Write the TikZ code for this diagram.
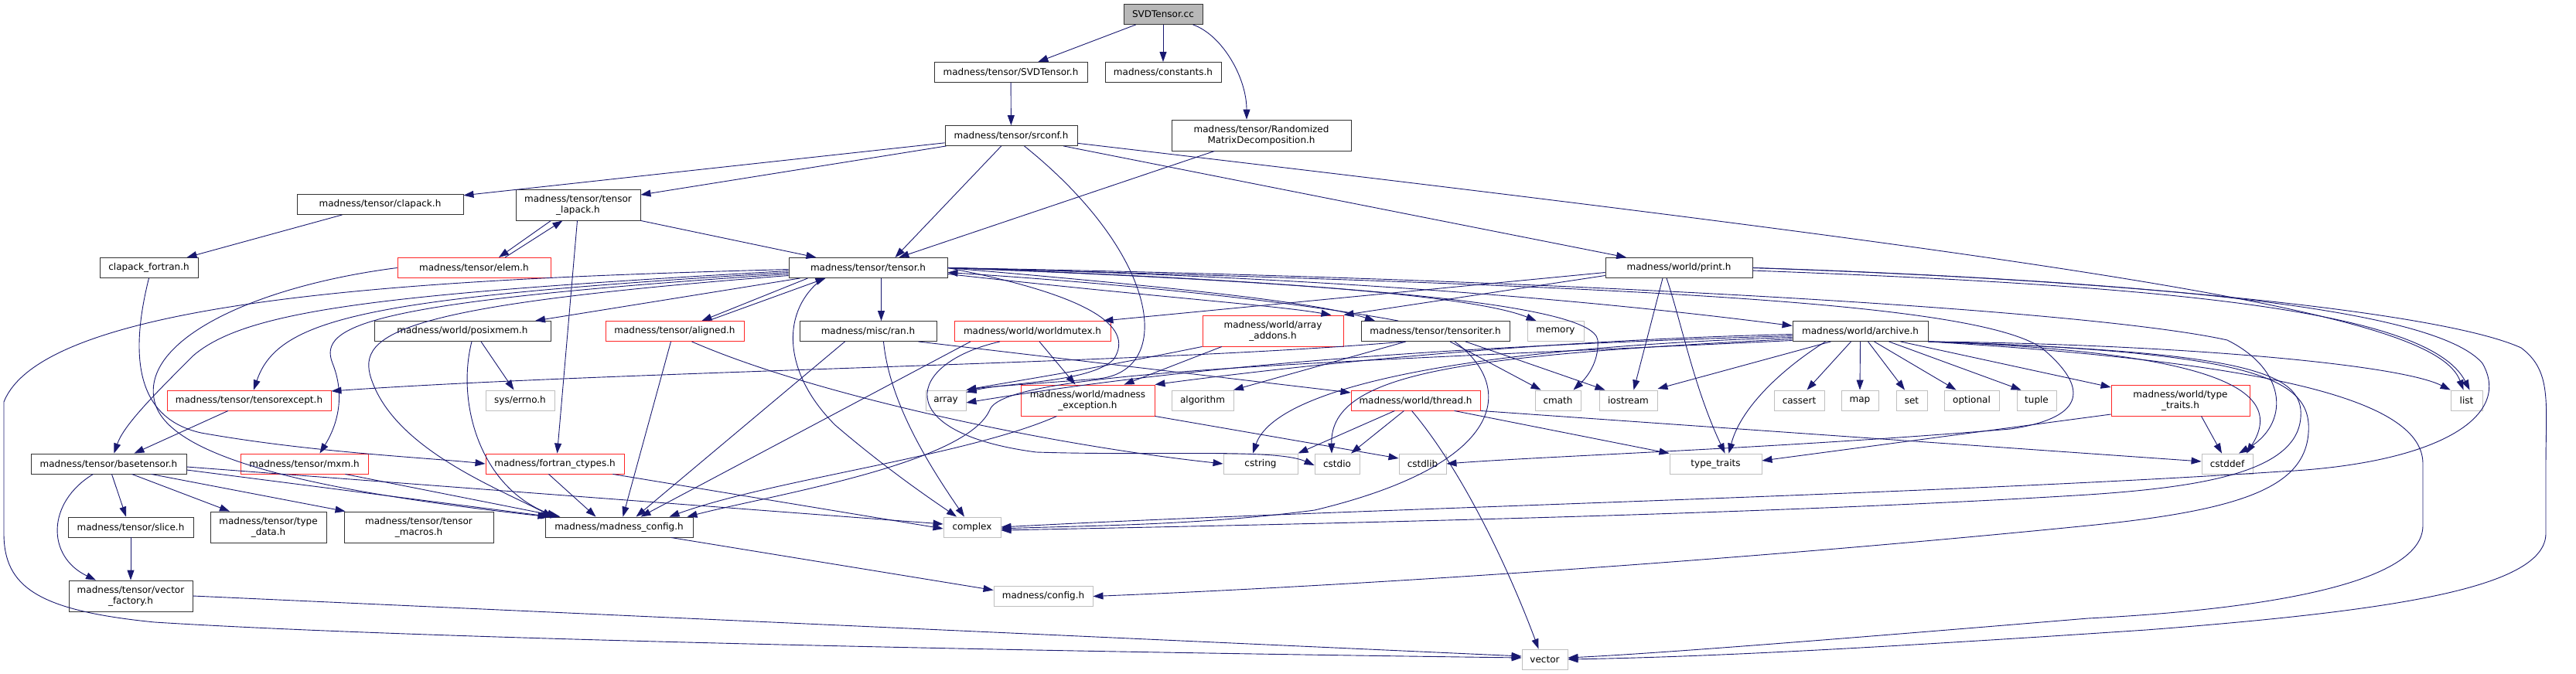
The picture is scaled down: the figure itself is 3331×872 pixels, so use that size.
\documentclass[tikz,border=0pt]{standalone}
\usepackage{fontspec}
\usepackage{tikz}
\usetikzlibrary{arrows.meta}
\newfontfamily\dxfont{DejaVu Sans}
\definecolor{navy}{RGB}{25,25,112}

\begin{document}
\begin{tikzpicture}[x=1pt, y=-1pt,
    file/.style={draw=black!80, fill=white, line width=0.9pt, inner sep=0pt, minimum height=26pt,
      align=center, font=\dxfont\fontsize{12}{14}\selectfont},
    trunc/.style={file, draw=red!85},
    sys/.style={file, draw=black!25},
    root/.style={file, fill=black!28},
    tall/.style={minimum height=40pt},
    dep/.style={draw=navy, line width=0.9pt, -{Triangle[length=13pt,width=9pt]}}]
  \useasboundingbox (0,0) rectangle (3331,872);

  \node[root, minimum width=102pt] (cc) at (1504,18.5) {SVDTensor.cc};
  \node[file, minimum width=198pt] (svdh) at (1307,93.5) {madness/tensor/SVDTensor.h};
  \node[file, minimum width=150pt] (const) at (1504,93.5) {madness/constants.h};
  \node[file, minimum width=171pt] (srconf) at (1307.5,175.5) {madness/tensor/srconf.h};
  \node[file, tall, minimum width=232pt] (rmd) at (1631,175) {madness/tensor/Randomized\\MatrixDecomposition.h};
  \node[file, minimum width=215pt] (clapack) at (491.5,264.5) {madness/tensor/clapack.h};
  \node[file, tall, minimum width=161pt] (tlapack) at (747.5,265) {madness/tensor/tensor\\\_lapack.h};
  \node[file, minimum width=127pt] (clf) at (192.5,346.5) {clapack\_fortran.h};
  \node[trunc, minimum width=198pt] (elem) at (613,346.5) {madness/tensor/elem.h};
  \node[file, minimum width=205pt] (tensor) at (1122.5,346.5) {madness/tensor/tensor.h};
  \node[file, minimum width=190pt] (print) at (2171,346.5) {madness/world/print.h};
  \node[file, minimum width=228pt] (posix) at (598,428.5) {madness/world/posixmem.h};
  \node[trunc, minimum width=179pt] (aligned) at (872.5,428.5) {madness/tensor/aligned.h};
  \node[file, minimum width=177pt] (ran) at (1122.5,428.5) {madness/misc/ran.h};
  \node[trunc, minimum width=202pt] (wmutex) at (1335,428.5) {madness/world/worldmutex.h};
  \node[trunc, tall, minimum width=182pt] (arradd) at (1646,428) {madness/world/array\\\_addons.h};
  \node[file, minimum width=192pt] (titer) at (1856,428.5) {madness/tensor/tensoriter.h};
  \node[sys, minimum width=73pt] (memory) at (2011.5,428.5) {memory};
  \node[file, minimum width=175pt] (archive) at (2405.5,428.5) {madness/world/archive.h};
  \node[trunc, minimum width=212pt] (texcept) at (322,518) {madness/tensor/tensorexcept.h};
  \node[sys, minimum width=89pt] (errno) at (672.5,518) {sys/errno.h};
  \node[sys, minimum width=52pt] (array) at (1223,518) {array};
  \node[trunc, tall, minimum width=173pt] (mexc) at (1406.5,518) {madness/world/madness\\\_exception.h};
  \node[sys, minimum width=80pt] (algo) at (1555,518) {algorithm};
  \node[trunc, minimum width=167pt] (thread) at (1830.5,518) {madness/world/thread.h};
  \node[sys, minimum width=59pt] (cmath) at (2014.5,518) {cmath};
  \node[sys, minimum width=75pt] (iostream) at (2105.5,518) {iostream};
  \node[sys, minimum width=65pt] (cassert) at (2326.5,518) {cassert};
  \node[sys, minimum width=48pt] (map) at (2405,518) {map};
  \node[sys, minimum width=40pt] (set) at (2472,518) {set};
  \node[sys, minimum width=71pt] (optional) at (2549.5,518) {optional};
  \node[sys, minimum width=51pt] (tuple) at (2633.5,518) {tuple};
  \node[trunc, tall, minimum width=179pt] (wtt) at (2819.5,518) {madness/world/type\\\_traits.h};
  \node[sys, minimum width=41pt] (list) at (3189.5,518) {list};
  \node[file, minimum width=201pt] (basetensor) at (140.5,600) {madness/tensor/basetensor.h};
  \node[trunc, minimum width=165pt] (mxm) at (393.5,600) {madness/tensor/mxm.h};
  \node[trunc, minimum width=179pt] (fct) at (717.5,600) {madness/fortran\_ctypes.h};
  \node[sys, minimum width=96pt] (cstring) at (1630,600) {cstring};
  \node[sys, minimum width=58pt] (cstdio) at (1729,600) {cstdio};
  \node[sys, minimum width=61pt] (cstdlib) at (1839.5,600) {cstdlib};
  \node[sys, minimum width=119pt] (typetraits) at (2218.5,600) {type\_traits};
  \node[sys, minimum width=66pt] (cstddef) at (2880,600) {cstddef};
  \node[file, minimum width=162pt] (slice) at (169,682) {madness/tensor/slice.h};
  \node[file, tall, minimum width=150pt] (typedata) at (347,682) {madness/tensor/type\\\_data.h};
  \node[file, tall, minimum width=193pt] (tmacros) at (541.5,682) {madness/tensor/tensor\\\_macros.h};
  \node[file, minimum width=191pt] (mconfig) at (800.5,682) {madness/madness\_config.h};
  \node[sys, minimum width=74pt] (complex) at (1257,682) {complex};
  \node[file, tall, minimum width=160pt] (vfactory) at (169,771) {madness/tensor/vector\\\_factory.h};
  \node[sys, minimum width=128pt] (config) at (1349,771.5) {madness/config.h};
  \node[sys, minimum width=59pt] (vector) at (1997.5,853) {vector};

  \draw[dep] (cc) -- (svdh);
  \draw[dep] (cc) -- (const);
  \draw[dep] (cc) .. controls (1580,45) and (1612,100) .. ([xshift=-19]rmd.north);
  \draw[dep] (svdh) -- (srconf);
  \draw[dep] (rmd) -- (tensor);
  \draw[dep] (srconf) -- (clapack);
  \draw[dep] (srconf) -- (tlapack);
  \draw[dep] (srconf) -- ([xshift=35]tensor.north);
  \draw[dep] ([xshift=17]srconf.south) .. controls (1500,330) and (1520,480) .. (1420,490) .. controls (1330,497) and (1280,500) .. (array.north east);
  \draw[dep] (srconf) -- (print);
  \draw[dep] (srconf) .. controls (2800,350) and (3150,410) .. ([xshift=-4]list.north);
  \draw[dep] (print) .. controls (2800,370) and (3140,400) .. ([xshift=4]list.north);
  \draw[dep] (print.east) .. controls (2700,360) and (3150,400) .. (3260,450) .. controls (3300,480) and (3292,520) .. (3292,600) -- (3292,690) .. controls (3292,760) and (3100,790) .. (2775,815) .. controls (2400,840) and (2200,850) .. (vector.east);
  \draw[dep] (print.east) .. controls (2800,365) and (3150,400) .. (3210,470) .. controls (3250,540) and (3150,600) .. (2950,610) .. controls (2500,640) and (1700,660) .. (complex.east);
  \draw[dep] ([xshift=-21]print.south) -- ([xshift=7]iostream.north);
  \draw[dep] ([xshift=-16]print.south) .. controls (2175,420) and (2190,500) .. ([xshift=12]typetraits.north);
  \draw[dep] ([yshift=-10]print.west) -- (arradd.north east);
  \draw[dep] ([yshift=-6]print.west) -- ([xshift=-10]wmutex.north east);

  \draw[dep] (clapack) -- (clf);
  \draw[dep] (clf.south) .. controls (170,450) and (170,540) .. (260,560) .. controls (400,585) and (550,592) .. (fct.west);
  \draw[dep] ([xshift=-35]tlapack.south) -- ([xshift=32]elem.north);
  \draw[dep] ([xshift=40]elem.north) -- ([xshift=-20]tlapack.south);
  \draw[dep] (tlapack.south east) -- ([xshift=-67]tensor.north);
  \draw[dep] ([xshift=-1]tlapack.south) -- ([xshift=3]fct.north);
  \draw[dep] (elem.west) .. controls (330,370) and (180,440) .. (200,520) .. controls (220,600) and (450,640) .. ([xshift=-92]mconfig.north);

  \draw[dep] ([yshift=-2]tensor.west) .. controls (600,360) and (60,380) .. (5,520) -- (5,690) .. controls (5,760) and (50,790) .. (200,805) .. controls (600,830) and (1500,845) .. ([yshift=2]vector.west);
  \draw[dep] ([yshift=-4]tensor.west) .. controls (500,380) and (320,400) .. (250,460) .. controls (200,510) and (160,550) .. ([xshift=7]basetensor.north);
  \draw[dep] ([yshift=-6]tensor.west) .. controls (480,385) and (360,410) .. ([xshift=6]texcept.north);
  \draw[dep] ([yshift=-8]tensor.west) .. controls (480,390) and (410,420) .. (430,470) .. controls (450,520) and (430,560) .. ([xshift=20]mxm.north);
  \draw[dep] ([yshift=-10]tensor.west) .. controls (520,395) and (460,430) .. (480,490) .. controls (510,580) and (640,630) .. ([xshift=-86]mconfig.north);
  \draw[dep] ([xshift=15]tensor.south west) -- ([xshift=94]posix.north);
  \draw[dep] ([xshift=25]tensor.south west) -- ([xshift=35]aligned.north);
  \draw[dep] ([xshift=43]aligned.north) -- ([xshift=48]tensor.south west);
  \draw[dep] ([xshift=45]tensor.south west) .. controls (1010,400) and (1010,480) .. (1080,550) .. controls (1150,610) and (1210,650) .. ([xshift=-20]complex.north);
  \draw[dep] ([xshift=17]tensor.south) -- ([xshift=17]ran.north);
  \draw[dep] (tensor.east) .. controls (1400,380) and (1470,420) .. (1440,465) .. controls (1410,495) and (1300,495) .. ([yshift=-3]array.north east);
  \draw[dep] (tensor.east) .. controls (1500,370) and (1700,390) .. ([xshift=-78]titer.north);
  \draw[dep] ([xshift=-48]titer.north) .. controls (1700,395) and (1500,370) .. ([yshift=-6]tensor.east);
  \draw[dep] (tensor.east) .. controls (1600,360) and (1900,380) .. ([xshift=-25]memory.north);
  \draw[dep] (tensor.east) .. controls (1800,360) and (2150,400) .. ([yshift=7]archive.west);
  \draw[dep] (tensor.east) .. controls (1700,365) and (2060,390) .. (2066,440) .. controls (2068,470) and (2050,490) .. ([xshift=20]cmath.north);
  \draw[dep] (tensor.east) .. controls (2000,360) and (2700,400) .. (2880,440) .. controls (2960,480) and (2960,550) .. ([xshift=15]cstddef.north);
  \draw[dep] (tensor.east) .. controls (2100,370) and (2550,390) .. (2640,450) .. controls (2700,500) and (2700,540) .. (2600,555) .. controls (2300,580) and (2000,590) .. (cstdlib.east);
  \draw[dep] ([yshift=-8]tensor.east) .. controls (1500,385) and (1650,395) .. ([xshift=-16]arradd.north east);

  \draw[dep] ([xshift=20]ran.south) .. controls (1150,520) and (1200,600) .. ([xshift=-10]complex.north);
  \draw[dep] ([xshift=-30]ran.south) -- ([xshift=22]mconfig.north);
  \draw[dep] ([xshift=65]ran.south) -- ([yshift=10]thread.west);
  \draw[dep] ([xshift=-80]wmutex.south) -- ([xshift=28]mconfig.north);
  \draw[dep] ([xshift=9]wmutex.south) -- ([xshift=-16]mexc.north);
  \draw[dep] ([xshift=-42]wmutex.south) .. controls (1170,470) and (1150,560) .. (1340,585) .. controls (1500,590) and (1650,580) .. ([yshift=-2]cstdio.west);
  \draw[dep] (arradd.south west) .. controls (1400,480) and (1300,495) .. (array.north east);
  \draw[dep] ([xshift=-66]arradd.south) -- ([xshift=47]mexc.north);
  \draw[dep] ([xshift=-40]mexc.south) .. controls (1250,590) and (1000,620) .. ([xshift=65]mconfig.north);
  \draw[dep] (mexc.south east) -- ([yshift=7]cstdlib.west);
  \draw[dep] ([xshift=-5]aligned.south) -- ([xshift=5]mconfig.north);
  \draw[dep] ([xshift=22]aligned.south) .. controls (1050,510) and (1350,575) .. (cstring.west);
  \draw[dep] ([xshift=24]posix.south) -- ([xshift=-8]errno.north);
  \draw[dep] ([xshift=12]posix.south) .. controls (590,520) and (620,630) .. ([xshift=-80]mconfig.north);

  \draw[dep] ([xshift=4]basetensor.south) -- ([xshift=-6]slice.north);
  \draw[dep] ([xshift=-20]basetensor.south) .. controls (60,650) and (60,720) .. ([xshift=-45]vfactory.north);
  \draw[dep] ([xshift=30]basetensor.south) -- ([xshift=-50]typedata.north);
  \draw[dep] ([xshift=55]basetensor.south) -- ([xshift=-95]tmacros.north);
  \draw[dep] ([yshift=-8]basetensor.east) -- ([xshift=8]mconfig.north west);
  \draw[dep] ([yshift=-4]basetensor.east) -- ([yshift=4]complex.west);
  \draw[dep] ([xshift=-30]mxm.south east) -- ([xshift=-76]mconfig.north);
  \draw[dep] ([xshift=-8]fct.south) -- ([xshift=-30]mconfig.north);
  \draw[dep] ([xshift=-15]fct.south east) -- ([yshift=-2]complex.west);
  \draw[dep] ([xshift=-27]texcept.south) -- ([xshift=33]basetensor.north);
  \draw[dep] (slice) -- (vfactory);
  \draw[dep] (vfactory.east) -- ([yshift=4]vector.west);
  \draw[dep] ([xshift=67]mconfig.south) -- ([yshift=8]config.west);

  \draw[dep] ([xshift=-40]titer.south) .. controls (1500,470) and (800,480) .. ([yshift=12]texcept.east);
  \draw[dep] ([xshift=-38]titer.south) -- ([xshift=40]algo.north);
  \draw[dep] ([xshift=39]titer.south) -- ([xshift=-30]iostream.north);
  \draw[dep] ([xshift=19]titer.south) -- ([xshift=-22]cmath.north);
  \draw[dep] ([xshift=25]titer.south) .. controls (1960,500) and (1950,600) .. (1700,660) .. controls (1550,680) and (1400,680) .. ([yshift=-2]complex.east);

  \draw[dep] ([xshift=-27]thread.south) -- (cstring.north east);
  \draw[dep] ([xshift=-15]thread.south) -- ([xshift=18]cstdio.north);
  \draw[dep] ([xshift=-5]thread.south) .. controls (1900,620) and (1960,760) .. ([xshift=-8]vector.north);
  \draw[dep] ([xshift=50]thread.south) -- (typetraits.north west);
  \draw[dep] (thread.south east) -- ([yshift=3]cstddef.west);

  \draw[dep] ([xshift=-12]archive.south) -- ([xshift=10]cassert.north);
  \draw[dep] (archive.south) -- (map.north);
  \draw[dep] ([xshift=10]archive.south) -- ([xshift=-9]set.north);
  \draw[dep] ([xshift=18]archive.south) -- ([xshift=-20]optional.north);
  \draw[dep] ([xshift=37]archive.south) -- ([xshift=-20]tuple.north);
  \draw[dep] ([xshift=52]archive.south) -- ([yshift=17]wtt.west);
  \draw[dep] ([xshift=-38]archive.south) -- ([yshift=15]iostream.east);
  \draw[dep] ([xshift=-45]archive.south) .. controls (2300,480) and (2250,530) .. ([xshift=17]typetraits.north);
  \draw[dep] (archive.south east) .. controls (2800,445) and (3100,470) .. (list.north west);
  \draw[dep] (archive.south east) .. controls (2850,455) and (2960,500) .. ([xshift=25]cstddef.north);
  \draw[dep] (archive.south east) .. controls (2900,455) and (2980,480) .. (2975,540) .. controls (2970,610) and (2850,630) .. (2700,640) .. controls (2300,665) and (1700,678) .. ([yshift=-4]complex.east);
  \draw[dep] (archive.south east) .. controls (2920,455) and (2990,490) .. (2985,560) .. controls (2980,630) and (2900,660) .. (2700,680) .. controls (2200,730) and (1700,760) .. (config.east);
  \draw[dep] (archive.south east) .. controls (2950,470) and (3133,520) .. (3133,600) -- (3133,680) .. controls (3133,760) and (2900,790) .. (2700,800) .. controls (2400,825) and (2150,845) .. ([yshift=2]vector.east);
  \draw[dep] ([yshift=-4]archive.west) .. controls (2000,440) and (1700,470) .. (mexc.north east);
  \draw[dep] ([yshift=-6]archive.west) .. controls (1800,450) and (1500,480) .. ([yshift=-3]array.east);
  \draw[dep] ([yshift=-8]archive.west) .. controls (1900,450) and (1650,500) .. ([xshift=-10]cstring.north);
  \draw[dep] ([yshift=-10]archive.west) .. controls (1900,460) and (1720,480) .. ([xshift=-7]cstdio.north);
  \draw[dep] ([yshift=-12]archive.west) .. controls (1700,470) and (1300,480) .. (1280,530) .. controls (1250,600) and (1000,640) .. ([xshift=88]mconfig.north);

  \draw[dep] ([yshift=-18]wtt.west) -- ([yshift=4]typetraits.east);
  \draw[dep] ([xshift=27]wtt.south) -- ([xshift=-7]cstddef.north);
\end{tikzpicture}
\end{document}
